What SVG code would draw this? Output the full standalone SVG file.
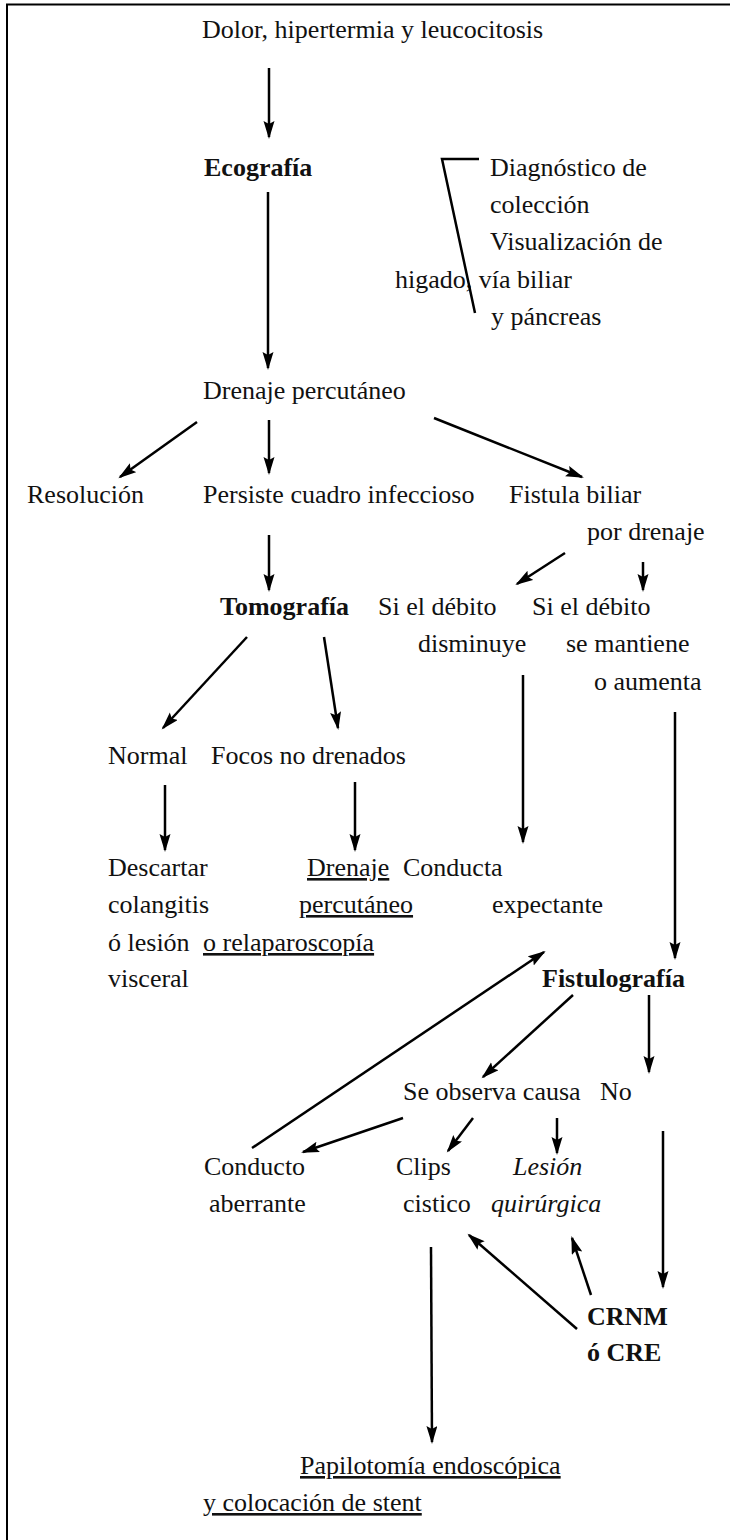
<svg xmlns="http://www.w3.org/2000/svg" width="730" height="1540" viewBox="0 0 730 1540">
<style>
text{font-family:"Liberation Serif","Times New Roman",serif;font-size:26px;fill:#111}
.b{font-weight:bold}
.i{font-style:italic}
.u{text-decoration:underline}
.c line,.c polyline{stroke:#000;stroke-width:2.5;fill:none}
.c line{marker-end:url(#ah)}
</style>
<defs>
<marker id="ah" markerUnits="userSpaceOnUse" markerWidth="20" markerHeight="12" refX="16" refY="5.5" orient="auto">
<path d="M0,0 L18,5.5 L0,11 L3,5.5 Z" fill="#000"/>
</marker>
</defs>
<rect width="730" height="1540" fill="#fff"/>
<g id="frame" stroke="#000" stroke-width="2" fill="none">
<polyline points="7,1540 7,4.5 730,4.5"/>
</g>
<g id="n-dolor"><text x="202" y="38">Dolor, hipertermia y leucocitosis</text></g>
<g id="n-ecografia"><text class="b" x="204" y="176">Ecografía</text></g>
<g id="n-diagnostico">
<text x="490" y="176">Diagnóstico de</text>
<text x="490" y="213">colección</text>
<text x="490" y="250">Visualización de</text>
<text x="395" y="288">higado, vía biliar</text>
<text x="491" y="325">y páncreas</text>
</g>
<g id="n-drenaje"><text x="203" y="399">Drenaje percutáneo</text></g>
<g id="n-resolucion"><text x="27" y="503">Resolución</text></g>
<g id="n-persiste"><text x="203" y="503">Persiste cuadro infeccioso</text></g>
<g id="n-fistula"><text x="509" y="503">Fistula biliar</text><text x="587" y="540">por drenaje</text></g>
<g id="n-tomografia"><text class="b" x="220" y="615">Tomografía</text></g>
<g id="n-disminuye"><text x="378" y="615">Si el débito</text><text x="418" y="652">disminuye</text></g>
<g id="n-mantiene"><text x="532" y="615">Si el débito</text><text x="566" y="652">se mantiene</text><text x="594" y="690">o aumenta</text></g>
<g id="n-normal"><text x="108" y="764">Normal</text></g>
<g id="n-focos"><text x="211" y="764">Focos no drenados</text></g>
<g id="n-descartar"><text x="108" y="876">Descartar</text><text x="108" y="913">colangitis</text><text x="108" y="951">ó lesión</text><text x="108" y="987">visceral</text></g>
<g id="n-drenaje2"><text class="u" x="307" y="876">Drenaje</text><text class="u" x="299" y="913">percutáneo</text><text class="u" x="203" y="951">o relaparoscopía</text></g>
<g id="n-conducta"><text x="403" y="876">Conducta</text><text x="492" y="913">expectante</text></g>
<g id="n-fistulografia"><text class="b" x="542" y="987">Fistulografía</text></g>
<g id="n-causa"><text x="403" y="1100">Se observa causa</text></g>
<g id="n-no"><text x="600" y="1100">No</text></g>
<g id="n-conducto"><text x="204" y="1175">Conducto</text><text x="209" y="1212">aberrante</text></g>
<g id="n-clips"><text x="396" y="1175">Clips</text><text x="403" y="1212">cistico</text></g>
<g id="n-lesion"><text class="i" x="513" y="1175">Lesión</text><text class="i" x="491" y="1212">quirúrgica</text></g>
<g id="n-crnm"><text class="b" x="587" y="1325">CRNM</text><text class="b" x="587" y="1361">ó CRE</text></g>
<g id="n-papilotomia"><text class="u" x="300" y="1474">Papilotomía endoscópica</text><text class="u" x="203" y="1511">y colocación de stent</text></g>
<g id="connectors" class="c">
<line x1="269" y1="68" x2="269" y2="137"/>
<line x1="268" y1="192" x2="268" y2="368"/>
<polyline points="479,159 442,159 475,313"/>
<line x1="197" y1="422" x2="120" y2="477"/>
<line x1="269" y1="420" x2="269" y2="473"/>
<line x1="434" y1="418" x2="582" y2="477"/>
<line x1="269" y1="535" x2="269" y2="590"/>
<line x1="565" y1="553" x2="517" y2="584"/>
<line x1="643" y1="562" x2="643" y2="590"/>
<line x1="247" y1="637" x2="163" y2="728"/>
<line x1="324" y1="637" x2="338" y2="728"/>
<line x1="523" y1="675" x2="523" y2="842"/>
<line x1="675" y1="712" x2="675" y2="958"/>
<line x1="165" y1="785" x2="165" y2="850"/>
<line x1="355" y1="782" x2="355" y2="850"/>
<line x1="252" y1="1148" x2="544" y2="952"/>
<line x1="573" y1="995" x2="483" y2="1077"/>
<line x1="649" y1="995" x2="649" y2="1072"/>
<line x1="403" y1="1118" x2="303" y2="1152"/>
<line x1="473" y1="1118" x2="448" y2="1151"/>
<line x1="557" y1="1118" x2="557" y2="1153"/>
<line x1="663" y1="1131" x2="663" y2="1287"/>
<line x1="577" y1="1329" x2="469" y2="1235"/>
<line x1="591" y1="1295" x2="572" y2="1238"/>
<line x1="431" y1="1247" x2="432" y2="1442"/>
</g>
</svg>
